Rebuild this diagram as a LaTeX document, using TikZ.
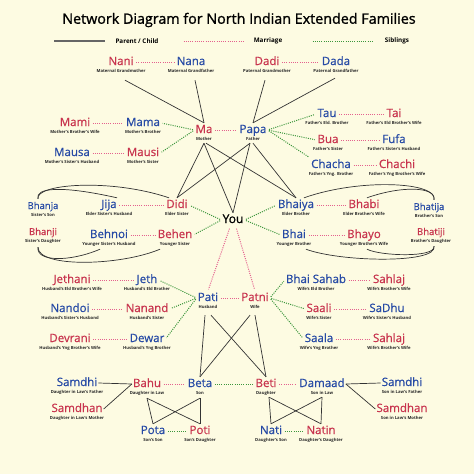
\documentclass[tikz,border=0pt]{standalone}
\usepackage{fontspec}
\setmainfont{Open Sans}
\newfontfamily\namefont{Open Sans}[FakeBold=0.6]
\newfontfamily\titlefont{Open Sans}[FakeBold=1.2]
\usetikzlibrary{positioning}
\definecolor{paper}{RGB}{253,251,226}
\definecolor{nmred}{RGB}{200,52,78}
\definecolor{nmblue}{RGB}{38,74,165}
\definecolor{marcol}{RGB}{228,96,142}
\definecolor{sibcol}{RGB}{60,150,60}
\tikzset{
     nm/.style={inner sep=1pt, text height=9pt, text depth=3pt,
       font=\namefont\fontsize{11.5}{12}\selectfont, label distance=1pt,
       label={[subt]below:#1}},
     subt/.style={inner sep=0pt, text height=3pt, text depth=1pt, text=black!85,
       font=\bfseries\fontsize{4.2}{5}\selectfont},
     he/.style={nm=#1, text=nmblue},
     she/.style={nm=#1, text=nmred},
     kid/.style={font=\namefont\fontsize{9.5}{10}\selectfont},
     me/.style={inner sep=1pt, text height=9pt, text depth=3pt,
       font=\namefont\fontsize{12}{12}\selectfont},
     leg/.style={inner sep=1pt, font=\bfseries\fontsize{6.3}{7}\selectfont},
     pc/.style={draw=black!80, line width=0.7pt},
     marr/.style={draw=marcol, line width=1pt, dash pattern=on 1pt off 1.2pt,
       shorten <=1.5pt, shorten >=1.5pt},
     sibl/.style={draw=sibcol, line width=1pt, dash pattern=on 1pt off 1.2pt,
       shorten <=1.5pt, shorten >=1.5pt}
     }

\begin{document}
\begin{tikzpicture}[x=1pt, y=-1pt]
  \fill[paper] (0,0) rectangle (474,474);
  \useasboundingbox (0,0) rectangle (474,474);
  % Title and legend
  \node[font=\titlefont\fontsize{14.3}{15}\selectfont] (title) at (239,20) {Network Diagram for North Indian Extended Families};
  \node[leg] (lpc) at (137,41) {Parent / Child};
  \node[leg] (lmar) at (268,41) {Marriage};
  \node[leg] (lsib) at (397,41) {Siblings};
  \coordinate (lpca) at (54,41);
  \coordinate (lpcb) at (105,41);
  \coordinate (lmara) at (182,41);
  \coordinate (lmarb) at (245,41);
  \coordinate (lsiba) at (311,41);
  \coordinate (lsibb) at (375,41);
  \draw[draw=black!60, line width=1.2pt] (lpca) -- (lpcb);
  \draw[marr] (lmara) -- (lmarb);
  \draw[sibl] (lsiba) -- (lsibb);
  % Place nodes
  % grandparents
  \node[she=Maternal Grandmother] (nani) at (121,62) {Nani};
  \node[he=Maternal Grandfather] (nana) at (191,62) {Nana};
  \node[she=Paternal Grandmother] (dadi) at (267,62) {Dadi};
  \node[he=Paternal Grandfather] (dada) at (336,62) {Dada};
  % parents
  \node[she=Mother] (ma) at (204,130) {Ma};
  \node[he=Father] (papa) at (253,130) {Papa};
  \node[she=Mother's Brother's Wife] (mami) at (75,123) {Mami};
  \node[he=Mother's Brother] (mama) at (143,123) {Mama};
  \node[he=Mother's Sister's Husband] (mausa) at (72,153) {Mausa};
  \node[she=Mother's Sister] (mausi) at (143,153) {Mausi};
  \node[he=Father's Eld. Brother] (tau) at (327,114) {Tau};
  \node[she=Father's Eld Brother's Wife] (tai) at (394,114) {Tai};
  \node[she=Father's Sister] (bua) at (328,140) {Bua};
  \node[he=Father's Sister's Husband] (fufa) at (394,140) {Fufa};
  \node[he=Father's Yng. Brother] (chacha) at (331,165) {Chacha};
  \node[she=Father's Yng Brother's Wife] (chachi) at (397,165) {Chachi};
  % you and siblings
  \node[me] (you) at (233,220) {You};
  \node[she=Elder Sister] (didi) at (177,205) {Didi};
  \node[he=Elder Sister's Husband] (jija) at (109,205) {Jija};
  \node[she=Younger Sister] (behen) at (175,235) {Behen};
  \node[he=Younger Sister's Husband] (behnoi) at (109,235) {Behnoi};
  \node[he=Elder Brother] (bhaiya) at (296,205) {Bhaiya};
  \node[she=Elder Brother's Wife] (bhabi) at (364,205) {Bhabi};
  \node[he=Younger Brother] (bhai) at (294,235) {Bhai};
  \node[she=Younger Brother's Wife] (bhayo) at (364,235) {Bhayo};
  \node[he=Sister's Son, kid] (bhanja) at (43,206) {Bhanja};
  \node[she=Sister's Daughter, kid] (bhanji) at (43,232) {Bhanji};
  \node[he=Brother's Son, kid] (bhatija) at (429,207) {Bhatija};
  \node[she=Brother's Daughter, kid] (bhatiji) at (431,232) {Bhatiji};
  % in-laws
  \node[he=Husband] (pati) at (208,298) {Pati};
  \node[she=Wife] (patni) at (255,298) {Patni};
  \node[she=Husband's Eld Brother's Wife] (jethani) at (72,280) {Jethani};
  \node[he=Husband's Eld Brother] (jeth) at (147,280) {Jeth};
  \node[he=Husband's Sister's Husband] (nandoi) at (70,309) {Nandoi};
  \node[she=Husband's Sister] (nanand) at (147,309) {Nanand};
  \node[she=Husband's Yng Brother's Wife] (devrani) at (70,339) {Devrani};
  \node[he=Husband's Yng Brother] (dewar) at (147,339) {Dewar};
  \node[he=Wife's Eld Brother] (bhaisahab) at (316,280) {Bhai Sahab};
  \node[she=Wife's Brother's Wife] (sahlaja) at (389,280) {Sahlaj};
  \node[she=Wife's Sister] (saali) at (319,309) {Saali};
  \node[he=Wife's Sister's Husband] (sadhu) at (387,309) {SaDhu};
  \node[he=Wife's Yng Brother] (saala) at (319,339) {Saala};
  \node[she=Wife's Brother's Wife] (sahlajb) at (389,339) {Sahlaj};
  % children
  \node[she=Daughter in Law] (bahu) at (147,384) {Bahu};
  \node[he=Son] (beta) at (200,384) {Beta};
  \node[she=Daughter] (beti) at (266,384) {Beti};
  \node[he=Son in Law] (damaad) at (322,384) {Damaad};
  \node[he=Daughter in Law's Father] (samdhil) at (77,383) {Samdhi};
  \node[she=Daughter in Law's Mother] (samdhanl) at (77,409) {Samdhan};
  \node[he=Son in Law's Father] (samdhir) at (402,383) {Samdhi};
  \node[she=Son in Law's Mother] (samdhanr) at (402,409) {Samdhan};
  \node[he=Son's Son] (pota) at (153,431) {Pota};
  \node[she=Son's Daughter] (poti) at (200,431) {Poti};
  \node[he=Daughter's Son] (nati) at (271,431) {Nati};
  \node[she=Daughter's Daughter] (natin) at (321,431) {Natin};
  % Draw edges
  % parent / child
  \path[pc] ([xshift=4pt,yshift=-11pt]nani.south) edge (ma.north)
            ([xshift=4pt,yshift=-11pt]nana.south) edge (ma.north)
            ([xshift=-2pt,yshift=-11pt]dadi.south) edge (papa.north)
            ([xshift=-1pt,yshift=-9pt]dada.south) edge (papa.north);
  \path[pc] ([yshift=-6pt]ma.south) edge (didi.north)
            ([yshift=-6pt]ma.south) edge (you.north)
            ([xshift=2pt,yshift=-6pt]ma.south) edge (bhaiya.north)
            ([xshift=-3pt,yshift=-6pt]papa.south) edge (didi.north)
            ([xshift=-3pt,yshift=-6pt]papa.south) edge (you.north)
            ([yshift=-6pt]papa.south) edge (bhaiya.north);
  \path[pc] ([xshift=-3pt,yshift=-10pt]pati.south) edge (beta.north)
            ([xshift=3pt,yshift=-10pt]pati.south) edge (beti.north)
            ([xshift=-5pt,yshift=-10pt]patni.south) edge (beta.north)
            ([yshift=-10pt]patni.south) edge (beti.north);
  \path[pc] (samdhil.east) edge (bahu.west)
            (samdhanl.east) edge (bahu.west)
            (damaad.east) edge (samdhir.west)
            (damaad.east) edge (samdhanr.west);
  \path[pc] ([yshift=-7pt]bahu.south) edge (pota.north)
            ([yshift=-7pt]bahu.south) edge (poti.north)
            ([yshift=-7pt]beta.south) edge (pota.north)
            ([yshift=-7pt]beta.south) edge (poti.north)
            ([xshift=3pt,yshift=-6pt]beti.south) edge (nati.north)
            ([xshift=3pt,yshift=-6pt]beti.south) edge (natin.north)
            ([yshift=-6pt]damaad.south) edge (nati.north)
            ([yshift=-6pt]damaad.south) edge (natin.north);
  % nephews and nieces
  \draw[pc] ([xshift=-5pt]bhanja.north) .. controls (35,188) and (60,185) .. ([xshift=8pt]jija.north);
  \draw[pc] ([xshift=-5pt]bhanja.north) .. controls (35,184) and (110,178) .. ([xshift=-8pt]didi.north);
  \draw[pc] ([xshift=-5pt,yshift=-8pt]bhanji.south) .. controls (36,262) and (70,262) .. ([xshift=-9pt,yshift=-7pt]behnoi.south);
  \draw[pc] ([xshift=-5pt,yshift=-8pt]bhanji.south) .. controls (38,268) and (120,266) .. ([xshift=-15pt,yshift=-7pt]behen.south);
  \draw[pc] ([xshift=5pt]bhatija.north) .. controls (438,182) and (360,178) .. ([xshift=8pt]bhaiya.north);
  \draw[pc] ([xshift=5pt]bhatija.north) .. controls (436,186) and (400,186) .. ([xshift=3pt]bhabi.north);
  \draw[pc] ([xshift=3pt,yshift=-7pt]bhatiji.south) .. controls (438,264) and (340,262) .. ([xshift=12pt,yshift=-7pt]bhai.south);
  \draw[pc] ([xshift=3pt,yshift=-7pt]bhatiji.south) .. controls (436,258) and (380,256) .. ([xshift=3pt,yshift=-7pt]bhayo.south);
  % marriage
  \path[marr] (nani.east) edge (nana.west)
              (dadi.east) edge (dada.west)
              (ma.east) edge (papa.west)
              (mami.east) edge (mama.west)
              (mausa.east) edge (mausi.west)
              (tau.east) edge (tai.west)
              (bua.east) edge (fufa.west)
              (chacha.east) edge (chachi.west)
              (jija.east) edge (didi.west)
              (behnoi.east) edge (behen.west)
              (bhaiya.east) edge (bhabi.west)
              (bhai.east) edge (bhayo.west)
              ([xshift=-3pt]you.south) edge (pati.north)
              ([xshift=3pt]you.south) edge (patni.north)
              (pati.east) edge (patni.west)
              (jethani.east) edge (jeth.west)
              (nandoi.east) edge (nanand.west)
              (devrani.east) edge (dewar.west)
              (bhaisahab.east) edge (sahlaja.west)
              (saali.east) edge (sadhu.west)
              (saala.east) edge (sahlajb.west)
              (bahu.east) edge (beta.west)
              (beti.east) edge (damaad.west);
  % siblings
  \path[sibl] (ma.west) edge (mama.east)
              (ma.west) edge (mausi.east)
              (papa.east) edge (tau.west)
              (papa.east) edge (bua.west)
              (papa.east) edge (chacha.north west)
              (you.west) edge (didi.east)
              (you.west) edge (behen.east)
              (you.east) edge (bhaiya.west)
              (you.east) edge (bhai.west)
              (pati.west) edge (jeth.east)
              (pati.west) edge (nanand.east)
              (pati.west) edge (dewar.east)
              (patni.east) edge (bhaisahab.west)
              (patni.east) edge (saali.west)
              (patni.east) edge (saala.west)
              (beta.east) edge (beti.west)
              (pota.east) edge (poti.west)
              (nati.east) edge (natin.west);
\end{tikzpicture}
\end{document}
